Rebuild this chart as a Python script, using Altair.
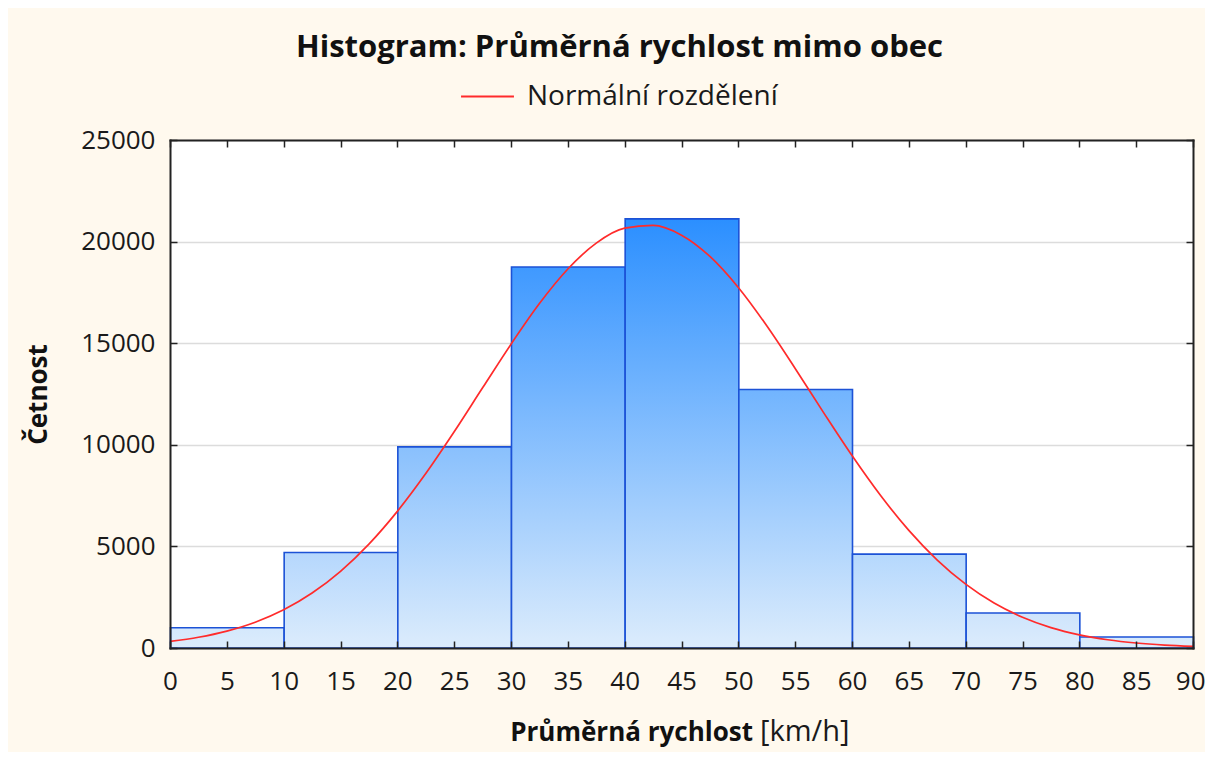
import altair as alt
import pandas as pd

# ---------------- data ----------------
bin_start = [0, 10, 20, 30, 40, 50, 60, 70, 80]
bin_end = [10, 20, 30, 40, 50, 60, 70, 80, 90]
counts = [1000, 4700, 9900, 18750, 21120, 12720, 4620, 1720, 540]

curve_x = [0, 2.5, 5, 7.5, 10, 12.5, 15, 17.5, 20, 22.5, 25, 27.5, 30, 32.5,
           35, 37.5, 40, 42.5, 45, 47.5, 50, 52.5, 55, 57.5, 60, 62.5, 65,
           67.5, 70, 72.5, 75, 77.5, 80, 82.5, 85, 87.5, 90]
curve_y = [326, 529, 831, 1268, 1879, 2703, 3773, 5113, 6725, 8585, 10641,
           12804, 14951, 16952, 18651, 19925, 20660, 20796, 20318, 19271,
           17743, 15857, 13758, 11584, 9471, 7516, 5788, 4328, 3142, 2213,
           1514, 1005, 648, 405, 246, 145, 83]

x_ticks = list(range(0, 95, 5))
x_labels_main = x_ticks[:-1]
x_label_last = [x_ticks[-1]]
y_ticks = [0, 5000, 10000, 15000, 20000, 25000]

title_text = "Histogram: Průměrná rychlost mimo obec"
legend_label = "Normální rozdělení"
x_title_bold = "Průměrná rychlost"
x_title_unit = "[km/h]"
y_title = "Četnost"

# ---------------- styling ----------------
FONT = "Open Sans"
W, H = 1023, 508
bottom_rgb = (220, 236, 252)
top_rgb = (43, 143, 255)
ref_top = max(counts)


def shade(v):
    t = v / ref_top
    c = [round(b + (a - b) * t) for a, b in zip(top_rgb, bottom_rgb)]
    return "#%02x%02x%02x" % tuple(c)


bars = pd.DataFrame({"start": bin_start, "end": bin_end, "count": counts})
curve = pd.DataFrame({"x": curve_x, "y": curve_y, "series": [legend_label] * len(curve_x)})

xscale = alt.Scale(domain=[0, 90], nice=False, zero=False)
yscale = alt.Scale(domain=[0, 25000], nice=False)

main_x_axis = alt.Axis(values=x_labels_main, ticks=False, domain=False, grid=False,
                       labelFont=FONT, labelFontSize=26, labelColor="#1a1a1a",
                       labelPadding=20, title=None, labelFlush=False)
last_x_axis = alt.Axis(orient="bottom", values=x_label_last, ticks=False, domain=False,
                       grid=False, labelFont=FONT, labelFontSize=26,
                       labelColor="#1a1a1a", labelPadding=20, title=None,
                       labelFlush=False, labelAlign="right", labelOffset=12)
main_y_axis = alt.Axis(values=y_ticks, format="d", ticks=False, domain=False, grid=True,
                       gridColor="#dcdcdc", gridWidth=1.5,
                       labelFont=FONT, labelFontSize=26, labelColor="#1a1a1a",
                       labelPadding=15, title=y_title, titleFont=FONT,
                       titleFontSize=26, titleFontWeight="bold", titleColor="#111",
                       titleX=-132, titleY=254, titleAngle=270,
                       titleAlign="center", titleBaseline="middle")


def tick_axis(orient, offset, values):
    return alt.Axis(orient=orient, offset=offset, values=values, labels=False,
                    ticks=True, tickSize=7, tickColor="#222", tickWidth=1.5,
                    domain=True, domainColor="#222", domainWidth=2,
                    domainCap="square", grid=False, title=None, zindex=2)


layers = []
for i in range(len(bin_start)):
    if i == 0:
        xa, ya = main_x_axis, main_y_axis
    elif i == 1:
        xa, ya = tick_axis("top", -H, x_ticks), tick_axis("right", -W, y_ticks)
    elif i == 2:
        xa, ya = tick_axis("bottom", -H, x_ticks), tick_axis("left", -W, y_ticks)
    elif i == 3:
        xa, ya = last_x_axis, None
    else:
        xa, ya = None, None
    grad = alt.Gradient(
        gradient="linear",
        stops=[alt.GradientStop(offset=0, color=shade(0)),
               alt.GradientStop(offset=1, color=shade(counts[i]))],
        x1=0, x2=0, y1=1, y2=0)
    layer = (
        alt.Chart(bars)
        .transform_filter(alt.datum.start == bin_start[i])
        .mark_bar(fill=grad, stroke="#1c52d6", strokeWidth=1.6, binSpacing=0)
        .encode(
            x=alt.X("start:Q", bin="binned", scale=xscale, axis=xa),
            x2="end:Q",
            y=alt.Y("count:Q", scale=yscale, axis=ya),
        )
    )
    layers.append(layer)

line = (
    alt.Chart(curve)
    .mark_line(strokeWidth=1.7, interpolate="monotone")
    .encode(
        x=alt.X("x:Q", scale=xscale, axis=None),
        y=alt.Y("y:Q", scale=yscale, axis=None),
        color=alt.Color(
            "series:N",
            scale=alt.Scale(domain=[legend_label], range=["#ff2b2b"]),
            legend=alt.Legend(
                title=None, orient="none", legendX=290, legendY=-71,
                symbolType="stroke", symbolSize=2800, symbolStrokeWidth=2,
                labelFont=FONT, labelFontSize=28, labelColor="#1a1a1a",
                labelOffset=12, labelLimit=0, padding=0),
        ),
    )
)

t1 = (
    alt.Chart(pd.DataFrame({"t": [x_title_bold]}))
    .mark_text(font=FONT, fontSize=26, fontWeight="bold", align="right",
               baseline="middle", color="#111")
    .encode(text="t:N", x=alt.value(583), y=alt.value(593))
)
t2 = (
    alt.Chart(pd.DataFrame({"t": [x_title_unit]}))
    .mark_text(font=FONT, fontSize=29, align="left", baseline="middle", color="#1a1a1a")
    .encode(text="t:N", x=alt.value(590), y=alt.value(592))
)

chart = (
    alt.layer(*layers, line, t1, t2)
    .resolve_axis(x="independent", y="independent")
    .properties(
        width=W, height=H,
        title=alt.TitleParams(title_text, font=FONT, fontSize=31, fontWeight="bold",
                              color="#111", anchor="middle", offset=5, dx=-62),
        autosize=alt.AutoSizeParams(type="none"),
        padding={"left": 162, "top": 132, "right": 12, "bottom": 104},
    )
    .configure(background="#fff9ee")
    .configure_view(fill="white", stroke=None)
)

chart.save("out.html", embed_options={"renderer": "svg", "actions": False})
